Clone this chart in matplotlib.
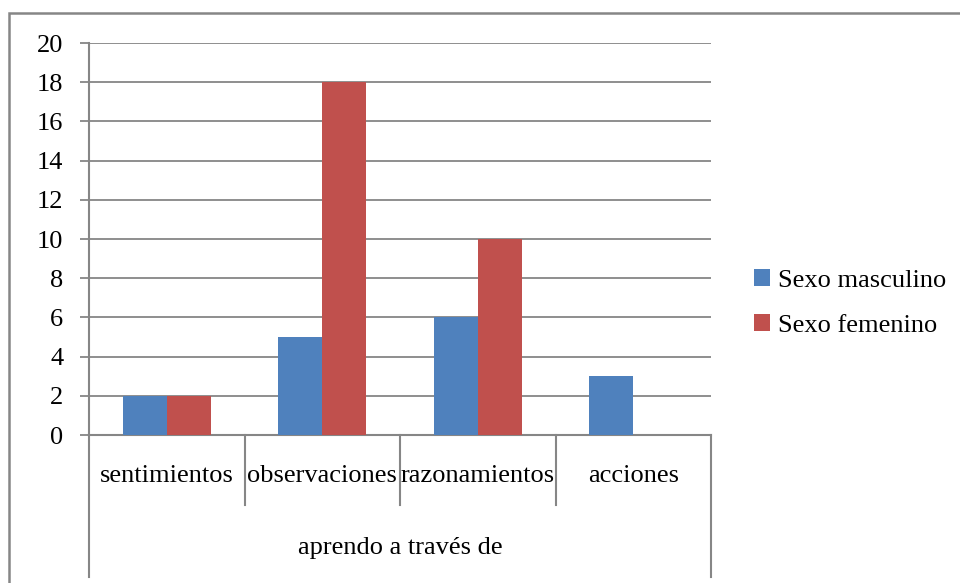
import matplotlib
matplotlib.use("Agg")
import matplotlib.pyplot as plt
from matplotlib.patches import Rectangle
from matplotlib.font_manager import FontProperties
import matplotlib.transforms as mtransforms

categories = ["sentimientos", "observaciones", "razonamientos", "acciones"]
masculino = [2, 5, 6, 3]
femenino = [2, 18, 10, 0]
series_names = ["Sexo masculino", "Sexo femenino"]
group_label = "aprendo a través de"
yticks = list(range(0, 21, 2))

FS = 19
fp = FontProperties(family="Liberation Serif", size=FS)

W, H = 960, 583
fig = plt.figure(figsize=(W / 100, H / 100), dpi=100)
gray = "#868686"
blue = "#4f81bd"
red = "#c0504d"

# outer chart border
fig.patches.append(Rectangle((9 / W, -0.1), 1.2, (H - 13) / H + 0.1,
                             transform=fig.transFigure, fill=False,
                             edgecolor=gray, linewidth=1.8))

ax_l, ax_r, ax_t, ax_b = 89, 711, 43, 435
ax = fig.add_axes([ax_l / W, 1 - ax_b / H, (ax_r - ax_l) / W, (ax_b - ax_t) / H])

x = list(range(len(categories)))
bw = 0.283
ax.bar([i - bw / 2 for i in x], masculino, width=bw, color=blue, label=series_names[0], zorder=3)
ax.bar([i + bw / 2 for i in x], femenino, width=bw, color=red, label=series_names[1], zorder=3)

ax.set_xlim(-0.5, len(categories) - 0.5)
ax.set_ylim(0, 20)
ax.set_yticks(yticks)
ax.set_yticklabels([str(v) for v in yticks], fontproperties=fp)
ax.yaxis.grid(True, color=gray, linewidth=1.3, zorder=0)
ax.set_axisbelow(True)
for s in ["top", "right"]:
    ax.spines[s].set_visible(False)
ax.spines["left"].set_color(gray)
ax.spines["left"].set_linewidth(1.5)
ax.spines["bottom"].set_color(gray)
ax.spines["bottom"].set_linewidth(1.5)
ax.set_xticks([])
ax.tick_params(axis="y", length=6.5, width=1.3, color=gray, pad=12)

trans = mtransforms.blended_transform_factory(ax.transData, ax.transAxes)
axh = ax_b - ax_t
inner_bottom = -(505 - ax_b) / axh
outer_bottom = -(577 - ax_b) / axh
n = len(categories)
for k in range(n + 1):
    xs = k - 0.5
    yb = outer_bottom if k in (0, n) else inner_bottom
    ax.plot([xs, xs], [0, yb], transform=trans, color=gray, linewidth=1.5, clip_on=False)

for i, c in enumerate(categories):
    ax.text(i, -(476 - ax_b) / axh, c, transform=trans, ha="center", va="center",
            fontproperties=fp)
ax.text(0.5, -(548 - ax_b) / axh, group_label, transform=ax.transAxes,
        ha="center", va="center", fontproperties=fp)

leg = fig.legend(loc="center left", bbox_to_anchor=(741 / W, 1 - 303 / H), frameon=False,
                 prop=fp, handlelength=0.6, handleheight=0.6, handletextpad=0.3,
                 labelspacing=0.85, borderpad=0)

fig.savefig("out.png", dpi=100, facecolor="white")
